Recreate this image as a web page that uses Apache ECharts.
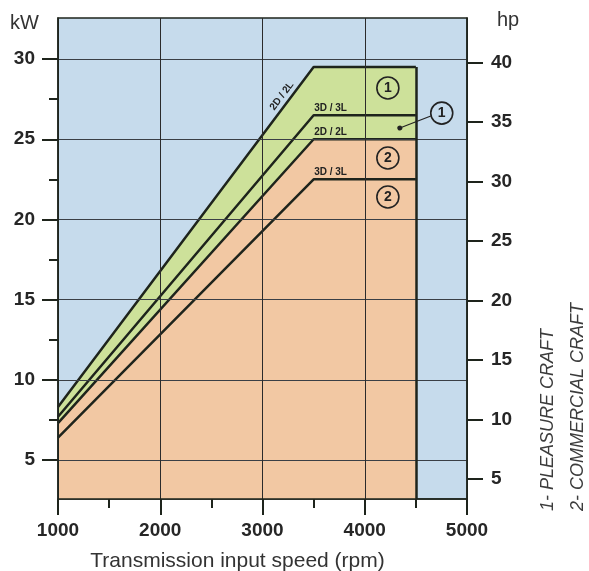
<!DOCTYPE html>
<html><head><meta charset="utf-8">
<script src="https://cdn.jsdelivr.net/npm/echarts@6/dist/echarts.min.js"></script>
<style>html,body{margin:0;padding:0;background:#fff}#c{width:589px;height:571px}</style>
</head><body><div id="c"></div>
<script>
// ---- data ----
const rpm = [1000, 3500, 4500];
const pleasure2D2L = [8.3, 29.5, 29.5];
const pleasure3D3L = [7.7, 26.5, 26.5];
const commercial2D2L = [7.3, 25.0, 25.0];
const commercial3D3L = [6.4, 22.5, 22.5];
const kwTicks = [5, 10, 15, 20, 25, 30];
const kwMinorTicks = [7.5, 12.5, 17.5, 22.5, 27.5];
const hpTicks = [5, 10, 15, 20, 25, 30, 35, 40];
const rpmTicks = [1000, 2000, 3000, 4000, 5000];
const lineNames = ['2D / 2L', '3D / 3L', '2D / 2L', '3D / 3L'];
const craftNotes = ['1- PLEASURE CRAFT', '2- COMMERCIAL CRAFT'];

// ---- axis ranges ----
const KW_MIN = 2.57, KW_MAX = 32.56;
const HP_MIN = 3.34, HP_MAX = 43.76;

const LINE = '#1e241c';
const BLUE = '#c6dbec';
const GREEN = '#cde19a';
const ORANGE = '#f2c8a3';
const FONT = '"Liberation Sans", Arial, sans-serif';

const pair = v => rpm.map((x, i) => [x, v[i]]);

const chart = echarts.init(document.getElementById('c'), null, {renderer: 'canvas'});

const tickLabel = {fontFamily: FONT, fontSize: 19, fontWeight: 'bold', color: '#262626'};
const lineLbl = (txt, x, y) => ({
  coord: [x, y], symbol: 'circle', symbolSize: 1,
  itemStyle: {color: 'rgba(0,0,0,0)'},
  label: {show: true, formatter: txt, position: 'right', distance: 0, offset: [0, -7],
    fontFamily: FONT, fontSize: 10, fontWeight: 'bold', color: '#222'}
});
const circ = (txt, x, y) => ({
  coord: [x, y], symbol: 'circle', symbolSize: 22,
  itemStyle: {color: 'rgba(0,0,0,0)', borderColor: '#222', borderWidth: 1.6},
  label: {show: true, formatter: txt, position: 'inside', fontFamily: FONT, fontSize: 14, fontWeight: 'bold', color: '#222'}
});

const option = {
  animation: false,
  backgroundColor: '#ffffff',
  grid: {left: 58, right: 122, top: 18, bottom: 72, show: true, backgroundColor: BLUE,
    borderColor: LINE, borderWidth: 1.5, containLabel: false, outerBoundsMode: 'none'},
  xAxis: {
    type: 'value', min: rpmTicks[0], max: rpmTicks[rpmTicks.length - 1], interval: 1000, z: 5,
    name: 'Transmission input speed (rpm)', nameLocation: 'middle', nameGap: 52,
    nameTextStyle: {fontFamily: FONT, fontSize: 21, color: '#333', padding: [0, 50, 0, 0]},
    axisLine: {show: true, lineStyle: {color: LINE, width: 1.5}},
    axisTick: {show: true, length: 16, lineStyle: {color: LINE, width: 2}},
    minorTick: {show: true, splitNumber: 2, length: 9, lineStyle: {color: LINE, width: 2}},
    axisLabel: Object.assign({margin: 22, formatter: v => String(v)}, tickLabel),
    splitLine: {show: true, lineStyle: {color: '#2b2b2b', width: 1}}
  },
  yAxis: [
    {
      type: 'value', position: 'left', min: KW_MIN, max: KW_MAX, z: 5,
      name: 'kW', nameLocation: 'end', nameGap: -5,
      nameTextStyle: {fontFamily: FONT, fontSize: 20, color: '#333', align: 'right', verticalAlign: 'middle', padding: [0, 19, 0, 0]},
      axisLine: {show: true, lineStyle: {color: LINE, width: 1.5}},
      axisTick: {show: true, length: 16, customValues: kwTicks, lineStyle: {color: LINE, width: 2}},
      axisLabel: Object.assign({margin: 23, customValues: kwTicks}, tickLabel),
      splitLine: {show: true, customValues: kwTicks, lineStyle: {color: '#3a3f45', width: 1}}
    },
    {
      type: 'value', position: 'left', min: KW_MIN, max: KW_MAX, z: 5,
      axisLine: {show: false},
      axisTick: {show: true, length: 9, customValues: kwMinorTicks, lineStyle: {color: LINE, width: 2}},
      axisLabel: {show: false},
      splitLine: {show: false}
    },
    {
      type: 'value', position: 'right', min: HP_MIN, max: HP_MAX, z: 5,
      name: 'hp', nameLocation: 'end', nameGap: -2,
      nameTextStyle: {fontFamily: FONT, fontSize: 20, color: '#333', align: 'left', verticalAlign: 'middle', padding: [0, 0, 0, 30]},
      axisLine: {show: true, lineStyle: {color: LINE, width: 1.5}},
      axisTick: {show: true, length: 16, customValues: hpTicks, lineStyle: {color: LINE, width: 2}},
      axisLabel: Object.assign({margin: 24, customValues: hpTicks}, tickLabel),
      splitLine: {show: false}
    }
  ],
  series: [
    {
      name: 'Pleasure 2D/2L', type: 'line', data: pair(pleasure2D2L), symbol: 'none', z: 2,
      lineStyle: {color: LINE, width: 2.5}, areaStyle: {color: GREEN, opacity: 1, origin: 'start'},
      markLine: {silent: true, symbol: 'none', label: {show: false},
        lineStyle: {color: LINE, width: 2.5, type: 'solid'},
        data: [[{coord: [rpm[2], pleasure2D2L[2]]}, {coord: [rpm[2], KW_MIN]}]]},
      markPoint: {silent: true, data: [{
        coord: [3190, 27.7], symbol: 'circle', symbolSize: 1, itemStyle: {color: 'rgba(0,0,0,0)'},
        label: {show: true, formatter: lineNames[0], position: 'inside', rotate: 53,
          fontFamily: FONT, fontSize: 10, fontWeight: 'bold', color: '#222'}
      }]}
    },
    {
      name: 'Commercial 2D/2L', type: 'line', data: pair(commercial2D2L), symbol: 'none', z: 2,
      lineStyle: {color: LINE, width: 2.5}, areaStyle: {color: ORANGE, opacity: 1, origin: 'start'},
      markPoint: {silent: true, data: [lineLbl(lineNames[2], rpm[1], commercial2D2L[1])]}
    },
    {
      name: 'Pleasure 3D/3L', type: 'line', data: pair(pleasure3D3L), symbol: 'none', z: 2,
      lineStyle: {color: LINE, width: 2.5},
      markPoint: {silent: true, data: [lineLbl(lineNames[1], rpm[1], pleasure3D3L[1])]}
    },
    {
      name: 'Commercial 3D/3L', type: 'line', data: pair(commercial3D3L), symbol: 'none', z: 2,
      lineStyle: {color: LINE, width: 2.5},
      markPoint: {silent: true, data: [lineLbl(lineNames[3], rpm[1], commercial3D3L[1])]}
    },
    {
      name: 'annotations', type: 'line', data: [], z: 6,
      markLine: {silent: true, symbol: ['circle', 'none'], symbolSize: 5, label: {show: false},
        lineStyle: {color: '#222', width: 1.2, type: 'solid'},
        data: [[{coord: [4343, 25.7]}, {coord: [4646, 26.45]}]]},
      markPoint: {silent: true, data: [
        circ('1', 4226, 28.2), circ('1', 4753, 26.63), circ('2', 4226, 23.83), circ('2', 4226, 21.4)
      ]}
    }
  ],
  graphic: [
    {type: 'text', x: 548, y: 511, rotation: Math.PI / 2,
      style: {text: craftNotes[0], font: 'italic 18px ' + FONT, fill: '#3c3c3c', align: 'left', verticalAlign: 'middle'}},
    {type: 'text', x: 578, y: 511, rotation: Math.PI / 2,
      style: {text: craftNotes[1], font: 'italic 18px ' + FONT, fill: '#3c3c3c', align: 'left', verticalAlign: 'middle'}}
  ]
};
chart.setOption(option);
</script>
</body></html>
